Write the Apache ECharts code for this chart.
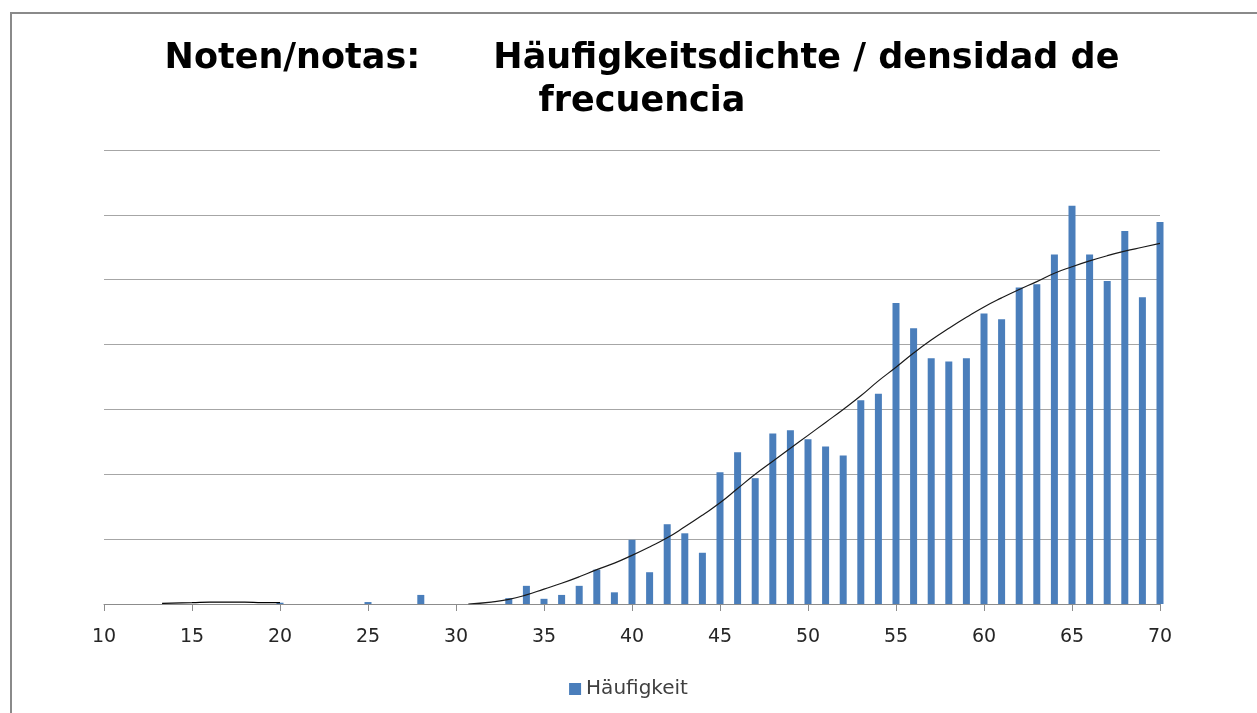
<!DOCTYPE html>
<html>
<head>
<meta charset="utf-8">
<script src="https://cdn.jsdelivr.net/npm/echarts@6/dist/echarts.min.js"></script>
<style>
  html, body { margin: 0; padding: 0; background: #fff; }
  #chart { width: 1257px; height: 713px; }
</style>
</head>
<body>
<div id="chart"></div>
<script>
// grades with a bar (x) and their frequency density (in gridline units)
const grades = [20, 25, 28, 33, 34, 35, 36, 37, 38, 39, 40, 41, 42, 43, 44, 45, 46, 47, 48, 49, 50,
  51, 52, 53, 54, 55, 56, 57, 58, 59, 60, 61, 62, 63, 64, 65, 66, 67, 68, 69, 70]
const haeufigkeit = [0.02, 0.03, 0.14, 0.09, 0.28, 0.08, 0.14, 0.28, 0.53, 0.18, 0.99, 0.49, 1.23, 1.09, 0.79,
  2.03, 2.34, 1.94, 2.63, 2.68, 2.54, 2.43, 2.29, 3.14, 3.24, 4.64, 4.25, 3.79, 3.74, 3.79,
  4.48, 4.39, 4.88, 4.93, 5.39, 6.14, 5.39, 4.98, 5.75, 4.73, 5.89]

// smooth trend curve (two pieces: a flat one on the left, the rising one from 31)
const curveLowX = [13.3, 15, 16, 17, 18, 19, 20]
const curveLowY = [0.01, 0.02, 0.03, 0.03, 0.03, 0.02, 0.02]
const curveX = [30.7, 32, 33, 34, 35, 36, 37, 38, 39, 40, 41, 42, 43, 44, 45, 46, 47, 48, 49, 50,
  51, 52, 53, 54, 55, 56, 57, 58, 59, 60, 61, 62, 63, 64, 65, 66, 67, 68, 69, 70]
const curveY = [0, 0.03, 0.07, 0.14, 0.23, 0.32, 0.42, 0.53, 0.63, 0.75, 0.88, 1.02, 1.19, 1.37, 1.56,
  1.78, 2.0, 2.2, 2.4, 2.6, 2.8, 3.0, 3.21, 3.44, 3.65, 3.87, 4.07, 4.25, 4.42, 4.58,
  4.72, 4.85, 4.97, 5.1, 5.2, 5.29, 5.37, 5.44, 5.5, 5.56]

const xMin = 10
const xMax = 70
const xStep = 5

const chart = echarts.init(document.getElementById('chart'))

const option = {
  backgroundColor: '#fff',
  animation: false,
  title: {
    text: 'Noten/notas:      Häufigkeitsdichte / densidad de\nfrecuencia',
    left: 637,
    top: 32,
    textAlign: 'center',
    textStyle: {
      fontFamily: 'DejaVu Sans',
      fontWeight: 'bold',
      fontSize: 35,
      lineHeight: 43,
      color: '#000'
    }
  },
  legend: {
    data: ['Häufigkeit'],
    top: 674,
    left: 'center',
    icon: 'rect',
    itemWidth: 12,
    itemHeight: 12,
    itemGap: 8,
    textStyle: { fontFamily: 'DejaVu Sans', fontSize: 20, color: '#404040' }
  },
  grid: {
    left: 104,
    right: 97,
    top: 150,
    bottom: 109,
    containLabel: false
  },
  graphic: [
    {
      type: 'polyline',
      shape: { points: [[11, 713], [11, 13], [1257, 13]] },
      style: { stroke: '#8a8a8a', lineWidth: 2, fill: null },
      silent: true
    }
  ],
  xAxis: {
    type: 'value',
    min: xMin,
    max: xMax,
    interval: xStep,
    axisLine: { show: true, lineStyle: { color: '#8c8c8c', width: 1 } },
    axisTick: { show: true, length: 7, lineStyle: { color: '#8c8c8c' } },
    axisLabel: {
      fontFamily: 'DejaVu Sans',
      fontSize: 19,
      color: '#262626',
      margin: 24
    },
    splitLine: { show: false }
  },
  yAxis: {
    type: 'value',
    min: 0,
    max: 7,
    interval: 1,
    axisLine: { show: false },
    axisTick: { show: false },
    axisLabel: { show: false },
    splitLine: { show: true, lineStyle: { color: '#a6a6a6', width: 1 } }
  },
  series: [
    {
      name: 'Häufigkeit',
      type: 'bar',
      barWidth: 7,
      itemStyle: { color: '#4a7ebb' },
      data: grades.map((g, i) => [g, haeufigkeit[i]])
    },
    {
      name: 'curveLow',
      type: 'line',
      smooth: true,
      symbol: 'none',
      lineStyle: { color: '#000', width: 1.2 },
      data: curveLowX.map((x, i) => [x, curveLowY[i]]),
      z: 3
    },
    {
      name: 'curve',
      type: 'line',
      smooth: true,
      symbol: 'none',
      lineStyle: { color: '#1a1a1a', width: 1.2 },
      data: curveX.map((x, i) => [x, curveY[i]]),
      z: 3
    }
  ]
}

chart.setOption(option)
</script>
</body>
</html>
